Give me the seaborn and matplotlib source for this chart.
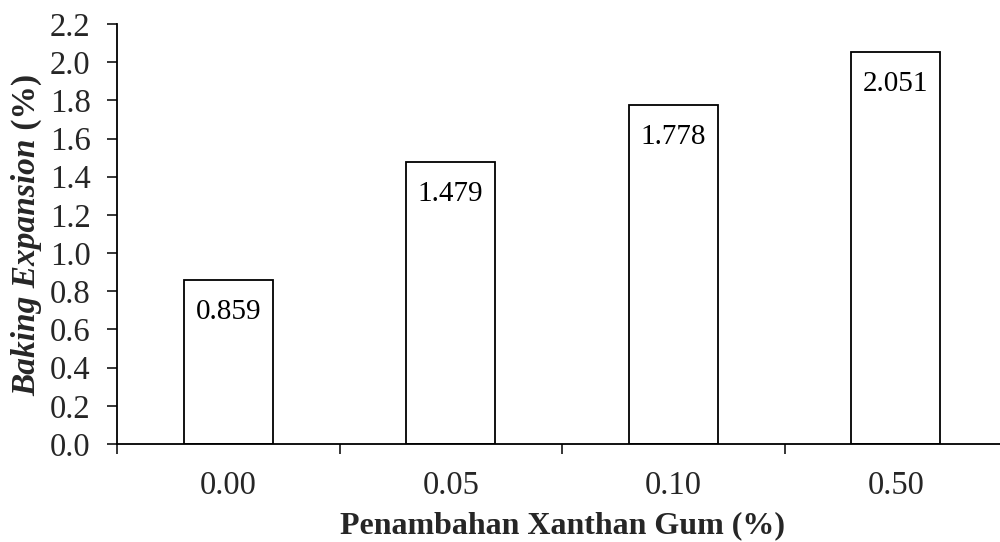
import matplotlib
matplotlib.use("Agg")
import matplotlib.pyplot as plt
import seaborn as sns
import pandas as pd

# Baking expansion by xanthan gum addition level
levels = ["0.00", "0.05", "0.10", "0.50"]
expansion = [0.859, 1.479, 1.778, 2.051]
y_ticks = [0.0, 0.2, 0.4, 0.6, 0.8, 1.0, 1.2, 1.4, 1.6, 1.8, 2.0, 2.2]

sns.set_theme(style="ticks")
plt.rcParams["font.family"] = ["Liberation Serif", "DejaVu Serif"]

df = pd.DataFrame({"level": levels, "expansion": expansion})

fig = plt.figure(figsize=(10, 5.42), dpi=100)
ax = fig.add_axes([0.117, 1 - 444 / 542, 0.89, 420 / 542])

sns.barplot(data=df, x="level", y="expansion", order=levels, ax=ax,
            color="white", edgecolor="black", linewidth=1.3, width=0.4,
            saturation=1, errorbar=None)

ax.set_ylim(0, 2.2)
ax.set_xlim(-0.5, 3.5)
ax.set_yticks(y_ticks)
ax.set_yticklabels([f"{t:.1f}" for t in y_ticks])
ax.set_xticks(range(len(levels)))
ax.set_xticklabels(levels)
# Category boundary ticks on the x axis
ax.set_xticks([i - 0.5 for i in range(len(levels) + 1)], minor=True)
ax.tick_params(axis="x", which="major", length=0, pad=19, labelsize=23.5)
ax.tick_params(axis="x", which="minor", length=7, width=1.3, direction="out")
ax.tick_params(axis="y", length=7, width=1.3, direction="out", pad=12, labelsize=23.5)

for side in ("top", "right"):
    ax.spines[side].set_visible(False)
for side in ("left", "bottom"):
    ax.spines[side].set_linewidth(1.3)
    ax.spines[side].set_color("black")

ax.set_xlabel("")
ax.set_ylabel("")

# Value labels inside the top of each bar
for i, v in enumerate(expansion):
    ax.annotate(f"{v:.3f}", xy=(i, v), xytext=(0, -23), textcoords="offset points",
                ha="center", va="center", fontsize=21, color="black")

fig.text(0.562, 1 - 526 / 542, "Penambahan Xanthan Gum (%)", ha="center", va="center",
         fontsize=23, fontweight="bold")

# Y axis title: italic bold name followed by bold unit
fig.canvas.draw()
renderer = fig.canvas.get_renderer()
t1 = fig.text(0.027, 0.5, "Baking Expansion", rotation=90, ha="center", va="bottom",
              fontsize=24, fontweight="bold", fontstyle="italic")
t2 = fig.text(0.027, 0.5, " (%)", rotation=90, ha="center", va="bottom",
              fontsize=24, fontweight="bold")
h1 = t1.get_window_extent(renderer).height
h2 = t2.get_window_extent(renderer).height
center_px = 542 - 235
start = center_px - (h1 + h2) / 2
t1.set_y(start / 542)
t2.set_y((start + h1) / 542)

fig.savefig("out.png", dpi=100, facecolor="white")
